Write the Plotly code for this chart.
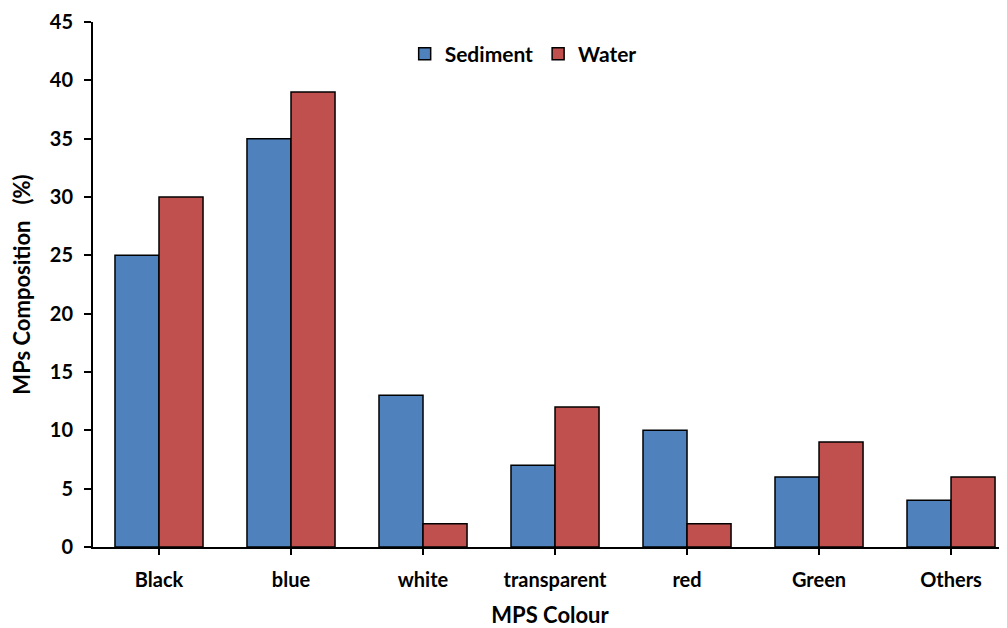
import plotly.graph_objects as go

categories = ["Black", "blue", "white", "transparent", "red", "Green", "Others"]
sediment = [25, 35, 13, 7, 10, 6, 4]
water = [30, 39, 2, 12, 2, 9, 6]

font_family = "Lato, 'Open Sans', sans-serif"

fig = go.Figure()
fig.add_trace(go.Bar(name="Sediment", x=categories, y=sediment,
                     marker=dict(color="#4F81BD", line=dict(color="black", width=1.5))))
fig.add_trace(go.Bar(name="Water", x=categories, y=water,
                     marker=dict(color="#C0504D", line=dict(color="black", width=1.5))))

fig.update_layout(
    width=999, height=620,
    margin=dict(l=85, r=0, t=14, b=81),
    plot_bgcolor="white", paper_bgcolor="white",
    barmode="group", bargap=0.333, bargroupgap=0,
    font=dict(family=font_family, size=20, color="black"),
    legend=dict(orientation="h", x=0.341, y=0.939, xanchor="left", yanchor="middle",
                font=dict(size=21, family=font_family, weight="bold"),
                itemwidth=30, traceorder="normal"),
    xaxis=dict(
        type="category", range=[-0.5, 6.424],
        showline=True, linecolor="black", linewidth=2,
        ticks="outside", ticklen=6, tickwidth=2, tickcolor="black",
        ticklabelstandoff=8,
        tickfont=dict(size=20, family=font_family, weight="bold"),
        title=dict(text="MPS Colour", font=dict(size=22, family=font_family, weight="bold"), standoff=20),
        showgrid=False,
    ),
    yaxis=dict(
        range=[0, 45], dtick=5,
        showline=True, linecolor="black", linewidth=2,
        ticks="outside", ticklen=7, tickwidth=2, tickcolor="black",
        ticklabelstandoff=7,
        tickfont=dict(size=20, family=font_family, weight="bold"),
        title=dict(text="MPs Composition\u00a0\u00a0\u00a0(%)", font=dict(size=22, family=font_family, weight="bold"), standoff=14),
        showgrid=False, zeroline=False,
    ),
)

fig.write_html("out.html")
